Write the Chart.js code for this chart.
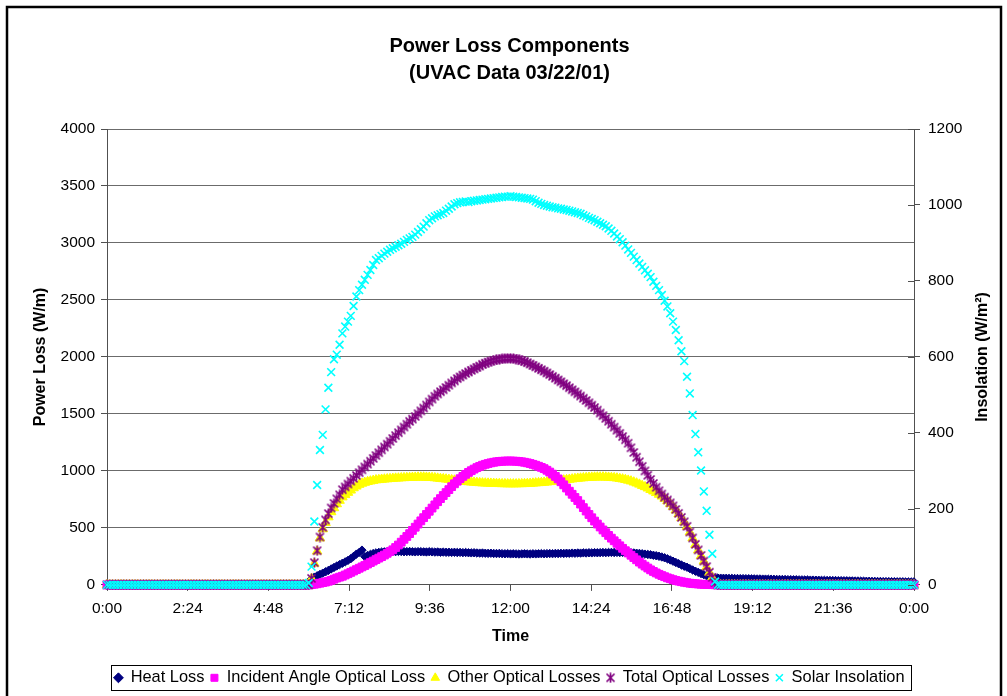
<!DOCTYPE html>
<html>
<head>
<meta charset="utf-8">
<script src="https://cdn.jsdelivr.net/npm/chart.js@4.4.1/dist/chart.umd.min.js"></script>
<style>
html,body{margin:0;padding:0;background:#fff;}
canvas{display:block;}
</style>
</head>
<body>
<canvas id="c" width="1007" height="696"></canvas>
<script>
// ---------- DATA ----------
const titleLines = ['Power Loss Components', '(UVAC Data 03/22/01)'];
const xAxisTitle = 'Time';
const leftAxisTitle = 'Power Loss (W/m)';
const rightAxisTitle = 'Insolation (W/m\u00B2)';
const seriesNames = ['Heat Loss', 'Incident Angle Optical Loss', 'Other Optical Losses', 'Total Optical Losses', 'Solar Insolation'];

const xTickValues = [0, 2.4, 4.8, 7.2, 9.6, 12, 14.4, 16.8, 19.2, 21.6, 24];
const xTickLabels = ['0:00', '2:24', '4:48', '7:12', '9:36', '12:00', '14:24', '16:48', '19:12', '21:36', '0:00'];
const yTickValues = [0, 500, 1000, 1500, 2000, 2500, 3000, 3500, 4000];
const y2TickValues = [0, 200, 400, 600, 800, 1000, 1200];

// sample times, minutes after midnight (one row per hour)
const timeMinutes = [
  0,5,10,15,20,25,30,35,40,45,50,55,
  60,65,70,75,80,85,90,95,100,105,110,115,
  120,125,130,135,140,145,150,155,160,165,170,175,
  180,185,190,195,200,205,210,215,220,225,230,235,
  240,245,250,255,260,265,270,275,280,285,290,295,
  300,305,310,315,320,325,330,335,340,345,350,355,
  360,365,370,375,380,385,390,395,400,405,410,415,
  420,425,430,435,440,445,450,455,460,465,470,475,
  480,485,490,495,500,505,510,515,520,525,530,535,
  540,545,550,555,560,565,570,575,580,585,590,595,
  600,605,610,615,620,625,630,635,640,645,650,655,
  660,665,670,675,680,685,690,695,700,705,710,715,
  720,725,730,735,740,745,750,755,760,765,770,775,
  780,785,790,795,800,805,810,815,820,825,830,835,
  840,845,850,855,860,865,870,875,880,885,890,895,
  900,905,910,915,920,925,930,935,940,945,950,955,
  960,965,970,975,980,985,990,995,1000,1005,1010,1015,
  1020,1025,1030,1035,1040,1045,1050,1055,1060,1065,1070,1075,
  1080,1085,1090,1095,1100,1105,1110,1115,1120,1125,1130,1135,
  1140,1145,1150,1155,1160,1165,1170,1175,1180,1185,1190,1195,
  1200,1205,1210,1215,1220,1225,1230,1235,1240,1245,1250,1255,
  1260,1265,1270,1275,1280,1285,1290,1295,1300,1305,1310,1315,
  1320,1325,1330,1335,1340,1345,1350,1355,1360,1365,1370,1375,
  1380,1385,1390,1395,1400,1405,1410,1415,1420,1425,1430,1435,
  1440
];

// Heat Loss (W/m)
const heatLoss = [
  0,0,0,0,0,0,0,0,0,0,0,0,
  0,0,0,0,0,0,0,0,0,0,0,0,
  0,0,0,0,0,0,0,0,0,0,0,0,
  0,0,0,0,0,0,0,0,0,0,0,0,
  0,0,0,0,0,0,0,0,0,0,0,0,
  0,0,0,0,0,0,0,0,0,0,0,0,
  15,55,68,80,92,103,115,127,140,153,166,178,
  190,202,215,230,250,270,285,305,248,258,267,275,
  281,285,288,290,291,292,293,292,294,293,291,292,
  293,291,290,292,291,290,289,291,290,288,289,287,
  288,286,287,285,286,284,285,283,284,282,281,282,
  280,279,280,278,277,278,276,275,276,274,273,274,
  272,273,272,271,272,273,272,271,273,272,273,274,
  273,274,275,274,276,275,277,276,278,277,279,278,
  280,279,281,280,282,281,283,282,283,284,283,284,
  285,284,285,284,285,283,284,282,280,278,276,273,
  270,267,264,260,256,251,245,238,229,219,208,197,
  186,175,164,155,143,131,120,110,100,90,80,72,
  66,62,60,59,58,58,57,57,56,56,55,55,
  54,54,53,53,52,52,51,51,50,50,49,48,
  48,47,47,46,46,45,45,44,44,43,43,42,
  42,41,41,40,40,39,39,38,38,37,37,36,
  36,35,35,34,34,33,33,32,32,31,31,30,
  30,29,29,29,28,28,27,27,27,26,26,26,
  26
];

// Incident Angle Optical Loss (W/m)
const incidentAngleLoss = [
  0,0,0,0,0,0,0,0,0,0,0,0,
  0,0,0,0,0,0,0,0,0,0,0,0,
  0,0,0,0,0,0,0,0,0,0,0,0,
  0,0,0,0,0,0,0,0,0,0,0,0,
  0,0,0,0,0,0,0,0,0,0,0,0,
  0,0,0,0,0,0,0,0,0,0,0,0,
  0,3,6,10,15,20,25,32,40,50,60,68,
  76,87,98,110,122,134,146,158,170,183,196,209,
  222,235,248,262,277,292,308,328,350,375,400,425,
  450,478,506,534,562,590,618,646,674,702,730,757,
  784,810,836,862,887,910,932,952,970,987,1002,1016,
  1029,1040,1050,1058,1065,1071,1076,1080,1083,1085,1086,1087,
  1087,1086,1085,1083,1080,1076,1071,1065,1058,1050,1041,1031,
  1020,1006,990,972,952,930,905,878,850,822,795,767,
  740,709,678,648,618,589,560,534,508,482,458,434,
  410,387,365,343,321,300,280,260,240,220,200,182,
  165,148,132,118,105,93,82,72,62,54,46,39,
  33,28,23,19,15,12,10,8,6,5,4,3,
  2,1,0,0,0,0,0,0,0,0,0,0,
  0,0,0,0,0,0,0,0,0,0,0,0,
  0,0,0,0,0,0,0,0,0,0,0,0,
  0,0,0,0,0,0,0,0,0,0,0,0,
  0,0,0,0,0,0,0,0,0,0,0,0,
  0,0,0,0,0,0,0,0,0,0,0,0,
  0
];

// Other Optical Losses (W/m)
const otherOpticalLoss = [
  0,0,0,0,0,0,0,0,0,0,0,0,
  0,0,0,0,0,0,0,0,0,0,0,0,
  0,0,0,0,0,0,0,0,0,0,0,0,
  0,0,0,0,0,0,0,0,0,0,0,0,
  0,0,0,0,0,0,0,0,0,0,0,0,
  0,0,0,0,0,0,0,0,0,0,0,0,
  0,55,188,295,410,490,545,595,640,675,710,740,
  770,790,810,830,850,865,880,890,898,905,910,915,
  920,922,925,927,929,931,933,935,936,938,939,940,
  941,942,943,944,944,944,943,942,940,938,935,932,
  930,927,924,921,918,915,912,909,906,903,901,899,
  897,895,893,892,891,890,889,888,887,886,886,885,
  885,885,885,886,886,887,888,889,891,893,895,897,
  899,901,904,907,910,913,916,919,922,925,928,931,
  934,936,938,940,942,943,944,945,945,945,944,943,
  941,939,936,932,928,923,917,910,901,892,882,871,
  860,848,835,822,808,793,777,758,737,713,686,656,
  623,588,551,512,462,410,354,305,256,207,158,109,
  64,20,0,0,0,0,0,0,0,0,0,0,
  0,0,0,0,0,0,0,0,0,0,0,0,
  0,0,0,0,0,0,0,0,0,0,0,0,
  0,0,0,0,0,0,0,0,0,0,0,0,
  0,0,0,0,0,0,0,0,0,0,0,0,
  0,0,0,0,0,0,0,0,0,0,0,0,
  0
];

// Total Optical Losses (W/m)
const totalOpticalLoss = [
  0,0,0,0,0,0,0,0,0,0,0,0,
  0,0,0,0,0,0,0,0,0,0,0,0,
  0,0,0,0,0,0,0,0,0,0,0,0,
  0,0,0,0,0,0,0,0,0,0,0,0,
  0,0,0,0,0,0,0,0,0,0,0,0,
  0,0,0,0,0,0,0,0,0,0,0,0,
  0,57,195,300,420,505,570,625,675,715,755,790,
  835,860,885,910,935,960,985,1010,1035,1060,1085,1110,
  1135,1160,1185,1210,1235,1260,1285,1310,1335,1360,1385,1410,
  1435,1455,1478,1502,1527,1552,1578,1605,1630,1655,1675,1695,
  1712,1732,1752,1772,1790,1810,1825,1840,1855,1868,1882,1895,
  1908,1920,1935,1945,1955,1963,1970,1975,1980,1983,1986,1988,
  1988,1986,1982,1976,1968,1960,1950,1938,1926,1913,1900,1888,
  1875,1860,1845,1830,1814,1798,1782,1765,1748,1730,1712,1694,
  1676,1657,1638,1618,1598,1577,1556,1533,1508,1485,1461,1436,
  1410,1384,1357,1330,1302,1273,1243,1203,1162,1120,1080,1040,
  1000,962,925,890,857,826,797,770,745,720,693,662,
  628,592,554,514,464,412,356,307,258,209,160,111,
  66,21,0,0,0,0,0,0,0,0,0,0,
  0,0,0,0,0,0,0,0,0,0,0,0,
  0,0,0,0,0,0,0,0,0,0,0,0,
  0,0,0,0,0,0,0,0,0,0,0,0,
  0,0,0,0,0,0,0,0,0,0,0,0,
  0,0,0,0,0,0,0,0,0,0,0,0,
  0
];

// Solar Insolation (W/m2), right axis
const solarInsolation = [
  0,0,0,0,0,0,0,0,0,0,0,0,
  0,0,0,0,0,0,0,0,0,0,0,0,
  0,0,0,0,0,0,0,0,0,0,0,0,
  0,0,0,0,0,0,0,0,0,0,0,0,
  0,0,0,0,0,0,0,0,0,0,0,0,
  0,0,0,0,0,0,0,0,0,0,0,0,
  5,48,167,263,355,395,462,519,560,594,606,632,
  662,680,693,708,734,759,776,790,803,816,829,842,
  855,860,866,872,877,882,886,890,894,898,903,908,
  912,916,922,929,936,943,952,960,965,970,973,976,
  979,985,990,996,1002,1005,1007,1008,1009,1008,1010,1011,
  1012,1013,1014,1015,1016,1017,1018,1019,1020,1021,1022,1022,
  1023,1022,1021,1020,1019,1018,1017,1016,1014,1010,1006,1003,
  1000,998,996,994,993,991,990,988,987,985,983,981,
  979,977,973,970,966,963,960,956,952,948,944,938,
  932,925,917,910,902,893,883,874,864,855,846,837,
  828,819,810,798,787,776,763,748,733,715,693,671,
  644,615,589,548,504,447,397,349,301,246,195,132,
  82,9,0,0,0,0,0,0,0,0,0,0,
  0,0,0,0,0,0,0,0,0,0,0,0,
  0,0,0,0,0,0,0,0,0,0,0,0,
  0,0,0,0,0,0,0,0,0,0,0,0,
  0,0,0,0,0,0,0,0,0,0,0,0,
  0,0,0,0,0,0,0,0,0,0,0,0,
  0
];

// ---------- STYLE ----------
const FONT = "'Liberation Sans', Arial, Helvetica, sans-serif";
const gridColor = '#6b6b6b';
const axisColor = '#505050';
Chart.defaults.font.family = FONT;
Chart.defaults.color = '#000';

function toPoints(vals) {
  if (vals.length !== timeMinutes.length) console.error('length mismatch', vals.length, timeMinutes.length);
  return timeMinutes.map((t, i) => ({ x: t / 60, y: vals[i] }));
}

function makeStar(color) {
  const s = 11;
  const c = document.createElement('canvas');
  c.width = s; c.height = s;
  const g = c.getContext('2d');
  g.strokeStyle = color; g.lineWidth = 1.7;
  const m = s / 2;
  g.beginPath();
  g.moveTo(m, 0.5); g.lineTo(m, s - 0.5);
  g.moveTo(1.5, 1.5); g.lineTo(s - 1.5, s - 1.5);
  g.moveTo(s - 1.5, 1.5); g.lineTo(1.5, s - 1.5);
  g.stroke();
  return c;
}
const starImg = makeStar('#800080');

const decor = {
  id: 'decor',
  beforeDraw(chart) {
    const { ctx, width, height } = chart;
    ctx.save();
    ctx.fillStyle = '#fff';
    ctx.fillRect(0, 0, width, height);
    ctx.restore();
  },
  afterDraw(chart) {
    const { ctx, chartArea: a, scales } = chart;
    ctx.save();
    // inner half of the right-axis cross ticks
    ctx.strokeStyle = axisColor; ctx.lineWidth = 1;
    y2TickValues.forEach(v => {
      const y = Math.round(scales.y2.getPixelForValue(v)) + 0.5;
      ctx.beginPath(); ctx.moveTo(a.right - 6, y); ctx.lineTo(a.right, y); ctx.stroke();
    });
    // right axis title, reading bottom to top
    ctx.save();
    ctx.translate(983, (a.top + a.bottom) / 2);
    ctx.rotate(-Math.PI / 2);
    ctx.font = 'bold 16px ' + FONT;
    ctx.fillStyle = '#000';
    ctx.textAlign = 'center';
    ctx.textBaseline = 'middle';
    ctx.fillText(rightAxisTitle, 0, 0);
    ctx.restore();
    // legend frame
    const hb = chart.legend && chart.legend.legendHitBoxes;
    if (hb && hb.length) {
      let l = Infinity, r = -Infinity, t = Infinity, b = -Infinity;
      hb.forEach(h => { l = Math.min(l, h.left); r = Math.max(r, h.left + h.width); t = Math.min(t, h.top); b = Math.max(b, h.top + h.height); });
      ctx.strokeStyle = '#000'; ctx.lineWidth = 1;
      ctx.strokeRect(Math.round(l - 3) + 0.5, Math.round(t - 5) + 0.5, Math.round(r - l + 10), Math.round(b - t + 9));
    }
    // outer chart frame
    ctx.strokeStyle = '#000'; ctx.lineWidth = 2.5;
    ctx.strokeRect(7, 7, 994, 720);
    ctx.restore();
  }
};

new Chart(document.getElementById('c'), {
  type: 'scatter',
  data: {
    datasets: [
      { label: seriesNames[0], data: toPoints(heatLoss), yAxisID: 'y', order: 5,
        pointStyle: 'rectRot', pointRadius: 4.2, pointBackgroundColor: '#000080', pointBorderColor: '#000080', pointBorderWidth: 1,
        backgroundColor: '#000080', borderColor: '#000080' },
      { label: seriesNames[1], data: toPoints(incidentAngleLoss), yAxisID: 'y', order: 3,
        pointStyle: 'rect', pointRadius: 5.5, pointBackgroundColor: '#FF00FF', pointBorderColor: '#FF00FF', pointBorderWidth: 1,
        backgroundColor: '#FF00FF', borderColor: '#FF00FF' },
      { label: seriesNames[2], data: toPoints(otherOpticalLoss), yAxisID: 'y', order: 4,
        pointStyle: 'triangle', pointRadius: 5.5, pointBackgroundColor: '#FFFF00', pointBorderColor: '#FFFF00', pointBorderWidth: 1,
        backgroundColor: '#FFFF00', borderColor: '#FFFF00' },
      { label: seriesNames[3], data: toPoints(totalOpticalLoss), yAxisID: 'y', order: 2,
        pointStyle: starImg, pointRadius: 5, pointBackgroundColor: '#800080', pointBorderColor: '#800080', pointBorderWidth: 1.5,
        backgroundColor: '#800080', borderColor: '#800080' },
      { label: seriesNames[4], data: toPoints(solarInsolation), yAxisID: 'y2', order: 1,
        pointStyle: 'crossRot', pointRadius: 5.5, pointBackgroundColor: '#00FFFF', pointBorderColor: '#00FFFF', pointBorderWidth: 1.6,
        backgroundColor: '#00FFFF', borderColor: '#00FFFF' }
    ]
  },
  options: {
    responsive: false,
    animation: false,
    devicePixelRatio: 1,
    events: [],
    clip: false,
    layout: { padding: { left: 12, right: 0, top: 0, bottom: 0 } },
    plugins: {
      tooltip: { enabled: false },
      title: {
        display: true, text: titleLines, color: '#000',
        font: { size: 20, weight: 'bold', lineHeight: 1.35 },
        padding: { top: 32.5, bottom: 42.5 }
      },
      legend: {
        position: 'bottom',
        labels: {
          usePointStyle: true, boxWidth: 8, boxHeight: 7, padding: 6, color: '#000',
          font: { size: 16.4 },
          sort: (a, b) => a.datasetIndex - b.datasetIndex
        }
      }
    },
    scales: {
      x: {
        type: 'linear', position: 'bottom', min: 0, max: 24,
        afterBuildTicks: s => { s.ticks = xTickValues.map(v => ({ value: v })); },
        afterFit: s => { s.height = 78.7; },
        ticks: { callback: (v, i) => xTickLabels[i], font: { size: 15.5 }, color: '#000', padding: 9, autoSkip: false, maxRotation: 0 },
        grid: { drawOnChartArea: false, drawTicks: true, tickLength: 6, tickColor: axisColor, color: axisColor },
        border: { display: true, color: axisColor, width: 1 },
        title: { display: true, text: xAxisTitle, color: '#000', font: { size: 16, weight: 'bold' }, padding: { top: 0, bottom: 17.1 } }
      },
      y: {
        type: 'linear', position: 'left', min: 0, max: 4000,
        afterBuildTicks: s => { s.ticks = yTickValues.map(v => ({ value: v })); },
        afterFit: s => { s.width = 95; },
        ticks: { callback: v => String(v), font: { size: 15.5 }, color: '#000', padding: 6 },
        grid: { color: gridColor, lineWidth: 1, drawTicks: true, tickLength: 6, tickColor: axisColor },
        border: { display: true, color: axisColor, width: 1 },
        title: { display: true, text: leftAxisTitle, color: '#000', font: { size: 16, weight: 'bold' }, padding: { top: 19.4, bottom: 0 } }
      },
      y2: {
        type: 'linear', position: 'right', min: 0, max: 1200,
        afterBuildTicks: s => { s.ticks = y2TickValues.map(v => ({ value: v })); },
        afterFit: s => { s.width = 93; },
        ticks: { callback: v => String(v), font: { size: 15.5 }, color: '#000', padding: 8 },
        grid: { drawOnChartArea: false, drawTicks: true, tickLength: 6, tickColor: axisColor, color: axisColor },
        border: { display: true, color: axisColor, width: 1 }
      }
    }
  },
  plugins: [decor]
});
</script>
</body>
</html>
